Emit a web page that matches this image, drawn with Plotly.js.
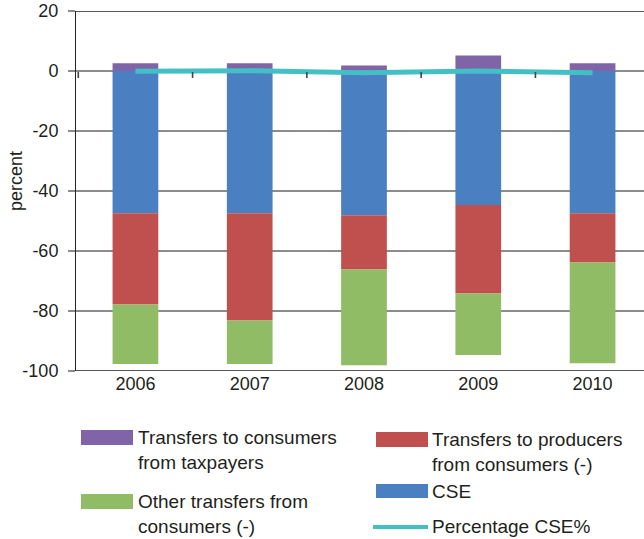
<!DOCTYPE html>
<html>
<head>
<meta charset="utf-8">
<script src="https://cdn.plot.ly/plotly-3.0.1.min.js"></script>
<style>html,body{margin:0;padding:0;background:#fff;}#chart{width:644px;height:539px;}</style>
</head>
<body>
<div id="chart"></div>
<script>
// ---- data ----
const years = ['2006', '2007', '2008', '2009', '2010'];
const cse = [-47.4, -47.4, -48.1, -44.7, -47.4];
const producersFromConsumers = [-30.4, -35.8, -18.1, -29.5, -16.4];
const otherFromConsumers = [-19.9, -14.5, -31.9, -20.5, -33.6];
const consumersFromTaxpayers = [2.6, 2.6, 1.8, 5.2, 2.6];
const csePercent = [-0.1, 0.1, -0.6, 0.0, -0.6];
const yTicks = [20, 0, -20, -40, -60, -80, -100];
const yTitle = 'percent';
const seriesNames = ['Transfers to consumers<br>from taxpayers', 'Transfers to producers<br>from consumers (-)',
  'Other transfers from<br>consumers (-)', 'CSE', 'Percentage CSE%'];

// ---- styling ----
const COL = {purple: '#7f65a8', red: '#c0504d', green: '#8fbc65', blue: '#4a7fc1', teal: '#43c0c5'};
const FONT = '"Liberation Sans", Arial, sans-serif';
const TXT = '#231f20';
const W = 644, H = 539, ML = 76, MR = 0, MT = 11, MB = 168;
const PW = W - ML - MR, PH = H - MT - MB;
const px = x => (x - ML) / PW;
const py = y => (H - MB - y) / PH;
const XRANGE = [-0.52, 4.45];
const YRANGE = [-100, 20];

const traces = [
  {type: 'bar', x: years, y: cse, name: 'CSE', marker: {color: COL.blue}, width: 0.4, showlegend: false},
  {type: 'bar', x: years, y: producersFromConsumers, name: 'Transfers to producers from consumers (-)', marker: {color: COL.red}, width: 0.4, showlegend: false},
  {type: 'bar', x: years, y: otherFromConsumers, name: 'Other transfers from consumers (-)', marker: {color: COL.green}, width: 0.4, showlegend: false},
  {type: 'bar', x: years, y: consumersFromTaxpayers, name: 'Transfers to consumers from taxpayers', marker: {color: COL.purple}, width: 0.4, showlegend: false},
  {type: 'scatter', mode: 'lines', x: years, y: csePercent, name: 'Percentage CSE%', line: {color: COL.teal, width: 5}, showlegend: false}
];

// legend drawn as shapes + text
const legendItems = [
  {name: seriesNames[0], color: COL.purple, kind: 'rect', x0: 81, x1: 133, y0: 430, y1: 445, tx: 136, ty: 450},
  {name: seriesNames[1], color: COL.red, kind: 'rect', x0: 376, x1: 428, y0: 432, y1: 447, tx: 430, ty: 452},
  {name: seriesNames[2], color: COL.green, kind: 'rect', x0: 81, x1: 133, y0: 494, y1: 509, tx: 136, ty: 514},
  {name: seriesNames[3], color: COL.blue, kind: 'rect', x0: 376, x1: 428, y0: 484, y1: 498, tx: 430, ty: 491},
  {name: seriesNames[4], color: COL.teal, kind: 'line', x0: 373, x1: 428, y0: 527, y1: 527, tx: 430, ty: 526}
];

const shapes = [];
const annotations = [];
legendItems.forEach(it => {
  if (it.kind === 'rect') {
    shapes.push({type: 'rect', xref: 'paper', yref: 'paper', x0: px(it.x0), x1: px(it.x1), y0: py(it.y1), y1: py(it.y0),
      fillcolor: it.color, line: {width: 0}});
  } else {
    shapes.push({type: 'line', xref: 'paper', yref: 'paper', x0: px(it.x0), x1: px(it.x1), y0: py(it.y0), y1: py(it.y1),
      line: {color: it.color, width: 4}});
  }
  annotations.push({xref: 'paper', yref: 'paper', x: px(it.tx), y: py(it.ty), xanchor: 'left', yanchor: 'middle',
    align: 'left', showarrow: false, text: it.name, font: {family: FONT, size: 19, color: TXT}});
});

// y-axis title (placed like the original, slightly above the plot centre)
annotations.push({xref: 'paper', yref: 'paper', x: px(16), y: py(181), xanchor: 'center', yanchor: 'middle',
  textangle: -90, showarrow: false, text: yTitle, font: {family: FONT, size: 18, color: TXT}});

// darker reference lines (top, -40, bottom)
[20, -40, -100].forEach(v => {
  shapes.push({type: 'line', xref: 'paper', yref: 'y', x0: px(69), x1: 1, y0: v, y1: v, layer: 'between',
    line: {color: '#222', width: 1.5}});
});

// category-boundary tick marks hanging below the zero line
for (let i = 0; i < years.length; i++) {
  shapes.push({type: 'line', xref: 'x', yref: 'y', ysizemode: 'pixel', yanchor: 0,
    x0: i - 0.5, x1: i - 0.5, y0: -1, y1: -7, line: {color: '#444', width: 1.6}});
}

const layout = {
  width: W, height: H,
  margin: {l: ML, r: MR, t: MT, b: MB, pad: 0},
  paper_bgcolor: '#fff', plot_bgcolor: '#fff',
  font: {family: FONT, size: 18, color: TXT},
  barmode: 'relative',
  showlegend: false,
  xaxis: {
    type: 'category', range: XRANGE, fixedrange: true,
    showgrid: false, zeroline: false, showline: false, ticks: '',
    tickfont: {family: FONT, size: 18, color: TXT}, automargin: false
  },
  yaxis: {
    range: YRANGE, tickvals: yTicks, ticktext: yTicks.map(String),
    showgrid: true, gridcolor: '#8c8c8c', gridwidth: 1.5,
    zeroline: true, zerolinecolor: '#8c8c8c', zerolinewidth: 2,
    showline: true, linecolor: '#222', linewidth: 1,
    ticks: 'outside', ticklen: 7, tickcolor: '#8c8c8c', tickwidth: 1.5,
    ticklabelstandoff: 6,
    tickfont: {family: FONT, size: 18, color: TXT},
    automargin: false
  },
  shapes: shapes,
  annotations: annotations
};

Plotly.newPlot('chart', traces, layout, {displayModeBar: false, staticPlot: true});
</script>
</body>
</html>
